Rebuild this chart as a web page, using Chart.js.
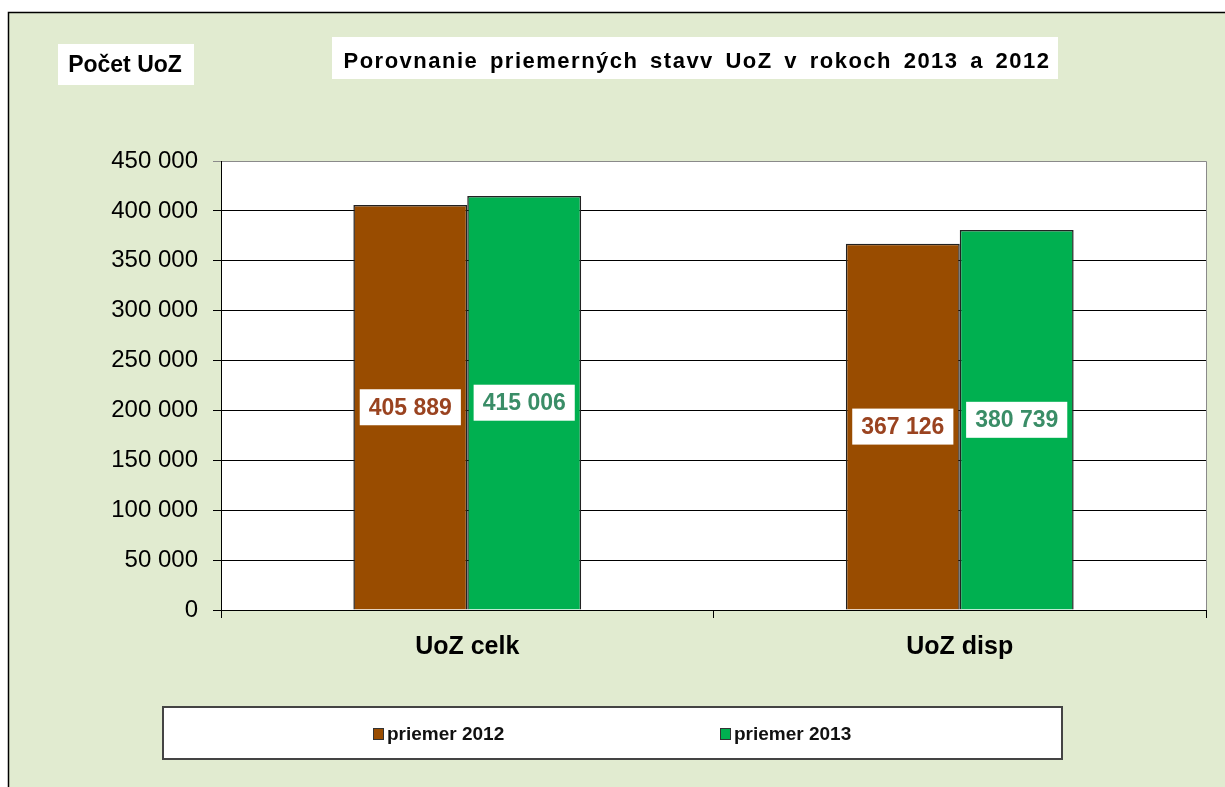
<!DOCTYPE html>
<html>
<head>
<meta charset="utf-8">
<script src="https://cdn.jsdelivr.net/npm/chart.js@4.4.1/dist/chart.umd.min.js"></script>
<style>
	html, body { margin: 0; padding: 0; background: #fff; }
	#wrap { width: 1225px; height: 787px; }
</style>
</head>
<body>
<div id="wrap"><canvas id="uozChart"></canvas></div>
<script>
// Data
const categories = [ 'UoZ celk', 'UoZ disp' ];
const seriesNames = [ 'priemer 2012', 'priemer 2013' ];
const values2012 = [ 405889, 367126 ];
const values2013 = [ 415006, 380739 ];
const yMax = 450000;
const yStep = 50000;
const chartTitle = 'Porovnanie priemerných stavv UoZ v rokoch 2013 a 2012';
const axisTitle = 'Počet UoZ';

const FONT = '"Liberation Sans", Arial, sans-serif';
const barColors = [ '#994C00', '#00B050' ];
const labelColors = [ '#9A4320', '#3A8D67' ];

function fmt( v ) {
	return String( v ).replace( /\B(?=(\d{3})+(?!\d))/g, ' ' );
}

// Frame, background, title boxes
const framePlugin = {
	id: 'frame',
	beforeDraw( chart ) {
		const ctx = chart.ctx;
		const area = chart.chartArea;
		ctx.save();
		ctx.fillStyle = '#fff';
		ctx.fillRect( 0, 0, chart.width, chart.height );
		ctx.fillStyle = '#E1EBD0';
		ctx.fillRect( 8, 12, chart.width, chart.height );
		ctx.strokeStyle = '#000';
		ctx.lineWidth = 1.5;
		ctx.beginPath();
		ctx.moveTo( 8.5, chart.height );
		ctx.lineTo( 8.5, 12.5 );
		ctx.lineTo( chart.width, 12.5 );
		ctx.stroke();

		// plot area
		ctx.fillStyle = '#fff';
		ctx.fillRect( area.left, area.top, area.right - area.left, area.bottom - area.top );
		ctx.strokeStyle = '#8a8a8a';
		ctx.lineWidth = 1;
		ctx.beginPath();
		ctx.moveTo( area.left, area.top + 0.5 );
		ctx.lineTo( area.right + 0.5, area.top + 0.5 );
		ctx.lineTo( area.right + 0.5, area.bottom );
		ctx.stroke();

		// title
		ctx.fillStyle = '#fff';
		ctx.fillRect( 332, 37, 726, 42 );
		ctx.fillRect( 58, 44, 136, 41 );
		ctx.fillStyle = '#000';
		ctx.textAlign = 'center';
		ctx.textBaseline = 'middle';
		ctx.font = 'bold 22px ' + FONT;
		ctx.letterSpacing = '1.5px';
		ctx.wordSpacing = '4px';
		ctx.fillText( chartTitle, 697, 62 );
		ctx.letterSpacing = '0px';
		ctx.wordSpacing = '0px';
		ctx.font = 'bold 23px ' + FONT;
		ctx.fillText( axisTitle, 125, 66 );
		ctx.restore();
	},
	afterDraw( chart ) {
		const ctx = chart.ctx;
		ctx.save();
		// legend box
		ctx.fillStyle = '#fff';
		ctx.fillRect( 163, 707, 899, 52 );
		ctx.strokeStyle = '#444';
		ctx.lineWidth = 2;
		ctx.strokeRect( 163, 707, 899, 52 );
		const itemX = [ 373, 720 ];
		ctx.font = 'bold 19px ' + FONT;
		ctx.textBaseline = 'middle';
		ctx.textAlign = 'left';
		chart.data.datasets.forEach( ( ds, i ) => {
			ctx.fillStyle = ds.backgroundColor;
			ctx.fillRect( itemX[ i ], 728, 10, 11 );
			ctx.strokeStyle = '#333';
			ctx.lineWidth = 1;
			ctx.strokeRect( itemX[ i ] + 0.5, 728.5, 10, 11 );
			ctx.fillStyle = '#111';
			ctx.fillText( ds.label, itemX[ i ] + 14, 735 );
		} );
		ctx.restore();
	},
};

// Value labels in the middle of each bar
const valueLabels = {
	id: 'valueLabels',
	afterDatasetsDraw( chart ) {
		const ctx = chart.ctx;
		ctx.save();
		ctx.font = 'bold 23px ' + FONT;
		ctx.textAlign = 'center';
		ctx.textBaseline = 'middle';
		chart.data.datasets.forEach( ( ds, i ) => {
			chart.getDatasetMeta( i ).data.forEach( ( bar, j ) => {
				const p = bar.getProps( [ 'x', 'y', 'base' ], true );
				const cy = ( p.y + p.base ) / 2;
				const txt = fmt( ds.data[ j ] );
				const w = ctx.measureText( txt ).width + 18;
				ctx.fillStyle = '#fff';
				ctx.fillRect( p.x - w / 2, cy - 18, w, 36 );
				ctx.fillStyle = labelColors[ i ];
				ctx.fillText( txt, p.x, cy + 1 );
			} );
		} );
		ctx.restore();
	},
};

new Chart( document.getElementById( 'uozChart' ), {
	type: 'bar',
	data: {
		labels: categories,
		datasets: [
			{
				label: seriesNames[ 0 ],
				data: values2012,
				backgroundColor: barColors[ 0 ],
				borderColor: '#222',
				borderWidth: 1.5,
			},
			{
				label: seriesNames[ 1 ],
				data: values2013,
				backgroundColor: barColors[ 1 ],
				borderColor: '#222',
				borderWidth: 1.5,
			},
		],
	},
	options: {
		responsive: true,
		maintainAspectRatio: false,
		animation: false,
		layout: {
			padding: { top: 161, left: 0, right: 19, bottom: 127 },
		},
		datasets: {
			bar: {
				categoryPercentage: 0.4625,
				barPercentage: 1,
			},
		},
		plugins: {
			legend: { display: false },
			title: { display: false },
			tooltip: { enabled: false },
		},
		scales: {
			x: {
				afterFit( scale ) {
					scale.height = 50;
				},
				grid: {
					offset: true,
					drawOnChartArea: false,
					tickLength: 8,
					color: '#000',
				},
				border: { color: '#000', width: 1 },
				ticks: {
					color: '#000',
					padding: 14,
					font: { family: FONT, size: 25, weight: 'bold' },
				},
			},
			y: {
				min: 0,
				max: yMax,
				afterFit( scale ) {
					scale.width = 221;
				},
				grid: {
					tickLength: 8,
					color: ( c ) => ( c.tick && c.tick.value === yMax ? '#8a8a8a' : '#000' ),
				},
				border: { color: '#000', width: 1 },
				ticks: {
					stepSize: yStep,
					color: '#000',
					padding: 15,
					font: { family: FONT, size: 24 },
					callback: ( v ) => fmt( v ),
				},
			},
		},
	},
	plugins: [ framePlugin, valueLabels ],
} );
</script>
</body>
</html>
